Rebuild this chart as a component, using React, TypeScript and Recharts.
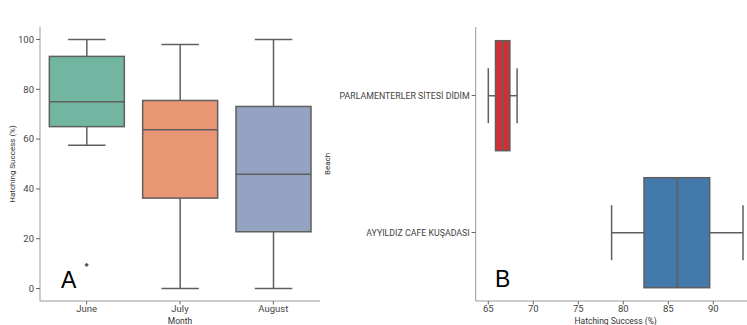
import React from "react";
import { ComposedChart, Bar, Scatter, XAxis, YAxis } from "recharts";

// left panel: hatching success by month
const months = ["June", "July", "August"];
const monthLow = [57.5, 0, 0];
const monthQ1 = [65, 36.3, 22.8];
const monthMedian = [75, 63.8, 45.9];
const monthQ3 = [93.2, 75.5, 73.1];
const monthHigh = [100, 98, 100];
const monthOutliers = [9.5, null, null];
const monthColors = ["#72b6a1", "#e99675", "#95a3c3"];
const monthTicks = [0, 20, 40, 60, 80, 100];

// right panel: top beaches
const beaches = ["PARLAMENTERLER SİTESİ DİDİM", "AYYILDIZ CAFE KUŞADASI"];
const beachLow = [65.0, 78.7];
const beachQ1 = [65.8, 82.3];
const beachMedian = [66.6, 86.0];
const beachQ3 = [67.4, 89.6];
const beachHigh = [68.2, 93.3];
const beachColors = ["#d03035", "#4479ab"];
const beachTicks = [65, 70, 75, 80, 85, 90];

const monthData = months.map((m, i) => ({
  month: m,
  range: [monthLow[i], monthHigh[i]],
  low: monthLow[i],
  q1: monthQ1[i],
  median: monthMedian[i],
  q3: monthQ3[i],
  high: monthHigh[i],
  outlier: monthOutliers[i],
  color: monthColors[i],
}));

const beachData = beaches.map((b, i) => ({
  beach: b,
  range: [beachLow[i], beachHigh[i]],
  low: beachLow[i],
  q1: beachQ1[i],
  median: beachMedian[i],
  q3: beachQ3[i],
  high: beachHigh[i],
  color: beachColors[i],
}));

const font = "Roboto, sans-serif";
const lineColor = "#5f5f5f";
const tickStyle = { fontSize: 9.5, fill: "#444", fontFamily: font };

// vertical box: the bar spans low..high, inner stats placed inside that span
const VBox = (props: any) => {
  const { x, y, width, height, payload } = props;
  const top = Math.min(y, y + height);
  const h = Math.abs(height);
  const { low, q1, median, q3, high, color } = payload;
  const py = (v: number) => top + (h * (high - v)) / (high - low);
  const cx = x + width / 2;
  const cap = width / 4;
  return (
    <g>
      <line x1={cx} x2={cx} y1={py(high)} y2={py(q3)} stroke={lineColor} strokeWidth={1.5} />
      <line x1={cx} x2={cx} y1={py(q1)} y2={py(low)} stroke={lineColor} strokeWidth={1.5} />
      <line x1={cx - cap} x2={cx + cap} y1={py(high)} y2={py(high)} stroke={lineColor} strokeWidth={1.5} />
      <line x1={cx - cap} x2={cx + cap} y1={py(low)} y2={py(low)} stroke={lineColor} strokeWidth={1.5} />
      <rect x={x} y={py(q3)} width={width} height={py(q1) - py(q3)} fill={color} stroke={lineColor} strokeWidth={1.5} />
      <line x1={x} x2={x + width} y1={py(median)} y2={py(median)} stroke={lineColor} strokeWidth={1.5} />
    </g>
  );
};

// horizontal box for the vertical-layout chart
const HBox = (props: any) => {
  const { x, y, width, height, payload } = props;
  const left = Math.min(x, x + width);
  const w = Math.abs(width);
  const { low, q1, median, q3, high, color } = payload;
  const px = (v: number) => left + (w * (v - low)) / (high - low);
  const cy = y + height / 2;
  const cap = height / 4;
  return (
    <g>
      <line x1={px(low)} x2={px(q1)} y1={cy} y2={cy} stroke={lineColor} strokeWidth={1.5} />
      <line x1={px(q3)} x2={px(high)} y1={cy} y2={cy} stroke={lineColor} strokeWidth={1.5} />
      <line x1={px(low)} x2={px(low)} y1={cy - cap} y2={cy + cap} stroke={lineColor} strokeWidth={1.5} />
      <line x1={px(high)} x2={px(high)} y1={cy - cap} y2={cy + cap} stroke={lineColor} strokeWidth={1.5} />
      <rect x={px(q1)} y={y} width={px(q3) - px(q1)} height={height} fill={color} stroke={lineColor} strokeWidth={1.5} />
      <line x1={px(median)} x2={px(median)} y1={y} y2={y + height} stroke={lineColor} strokeWidth={1.5} />
    </g>
  );
};

const Outlier = (props: any) => {
  const { cx, cy, payload } = props;
  if (payload == null || payload.outlier == null || cx == null || cy == null) return <g />;
  const r = 2.2;
  return <path d={`M${cx},${cy - r}L${cx + r},${cy}L${cx},${cy + r}L${cx - r},${cy}Z`} fill="#555" />;
};

// beach names stay on one line
const BeachTick = (props: any) => {
  const { x, y, payload } = props;
  return (
    <text x={x} y={y} dy="0.35em" textAnchor="end" fontSize={8.8} fill="#444" fontFamily={font}>
      {payload.value}
    </text>
  );
};

const panelLetter = { position: "absolute" as const, fontFamily: "Liberation Sans, sans-serif", fontSize: 23, lineHeight: "24px", color: "#000" };

export default function App() {
  return (
    <div style={{ position: "absolute", left: 0, top: 0, width: 747, height: 325, overflow: "hidden", background: "#fff" }}>
      <div style={{ position: "absolute", left: 0, top: 0 }}>
        <ComposedChart width={330} height={325} data={monthData} barCategoryGap="10%" margin={{ top: 27, right: 10, left: 0, bottom: 4 }}>
          <XAxis
            xAxisId="main"
            dataKey="month"
            height={20}
            tick={tickStyle}
            tickSize={3.5}
            tickMargin={1}
            axisLine={{ stroke: "#999" }}
            tickLine={{ stroke: "#666" }}
            label={{ value: "Month", position: "insideBottom", offset: -2.5, style: { fontSize: 8.5, fill: "#333", fontFamily: font } }}
          />
          <XAxis
            xAxisId="top"
            orientation="top"
            dataKey="month"
            height={0}
            tick={false}
            tickLine={false}
            axisLine={{ stroke: "#aaa" }}
            label={{ value: "Hatching Success by Month", position: "top", offset: 5, style: { fontSize: 11.5, fill: "#333", fontFamily: font } }}
          />
          <YAxis
            yAxisId="main"
            domain={[-5, 105]}
            ticks={monthTicks}
            width={40}
            tick={tickStyle}
            tickSize={4}
            axisLine={{ stroke: "#999" }}
            tickLine={{ stroke: "#666" }}
            label={{ value: "Hatching Success (%)", angle: -90, position: "insideLeft", offset: 12, style: { textAnchor: "middle", fontSize: 8, fill: "#333", fontFamily: font } }}
          />
          <YAxis yAxisId="right" orientation="right" width={0} tick={false} tickLine={false} axisLine={{ stroke: "#444" }} />
          <Bar xAxisId="main" yAxisId="main" dataKey="range" shape={VBox} isAnimationActive={false} />
          <Scatter xAxisId="main" yAxisId="main" dataKey="outlier" shape={Outlier} isAnimationActive={false} />
        </ComposedChart>
      </div>
      <div style={{ position: "absolute", left: 322, top: 0 }}>
        <ComposedChart width={450} height={325} data={beachData} layout="vertical" barCategoryGap="10%" margin={{ top: 27, right: 16.4, left: 0, bottom: 4 }}>
          <XAxis
            xAxisId="main"
            type="number"
            domain={[63.6, 94.7]}
            allowDataOverflow
            ticks={beachTicks}
            height={20}
            tick={tickStyle}
            tickSize={3.5}
            tickMargin={1}
            axisLine={{ stroke: "#999" }}
            tickLine={{ stroke: "#666" }}
            label={{ value: "Hatching Success (%)", position: "insideBottom", offset: -2.5, style: { fontSize: 8.5, fill: "#333", fontFamily: font } }}
          />
          <XAxis
            xAxisId="top"
            orientation="top"
            type="number"
            domain={[63.6, 94.7]}
            height={0}
            tick={false}
            tickLine={false}
            axisLine={{ stroke: "#999" }}
            label={{ value: "Hatching Success by Top Beaches (>1 nest)", position: "top", offset: 5, style: { fontSize: 11.5, fill: "#333", fontFamily: font } }}
          />
          <YAxis
            yAxisId="main"
            type="category"
            dataKey="beach"
            width={153.7}
            tick={BeachTick}
            tickSize={4}
            axisLine={{ stroke: "#999" }}
            tickLine={{ stroke: "#666" }}
            label={{ value: "Beach", angle: -90, position: "insideLeft", offset: 5.5, style: { textAnchor: "middle", fontSize: 8, fill: "#333", fontFamily: font } }}
          />
          <Bar xAxisId="main" yAxisId="main" dataKey="range" shape={HBox} isAnimationActive={false} />
        </ComposedChart>
      </div>
      <div style={{ ...panelLetter, left: 61, top: 268 }}>A</div>
      <div style={{ ...panelLetter, left: 495, top: 267 }}>B</div>
    </div>
  );
}
